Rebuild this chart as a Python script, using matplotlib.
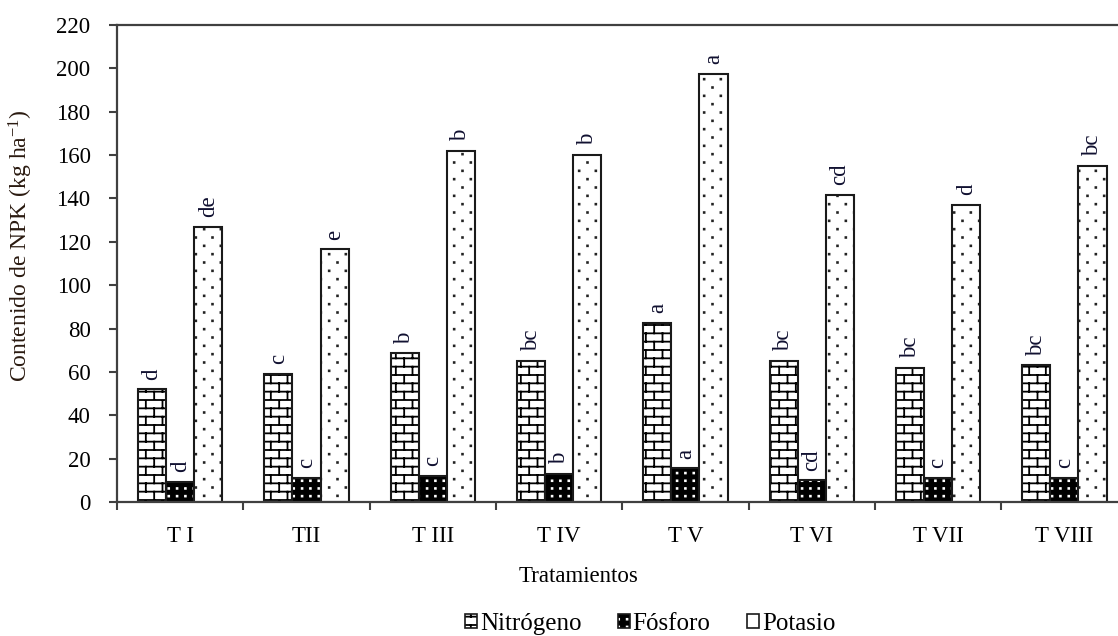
import warnings
warnings.filterwarnings("ignore")
import numpy as np
import matplotlib
matplotlib.use("Agg")
import matplotlib.pyplot as plt
import matplotlib.hatch as mhatch
import matplotlib.colors as mcolors
from matplotlib.path import Path
from matplotlib.patches import Rectangle
from matplotlib.ticker import FixedLocator, NullFormatter, FixedFormatter

# ---------------- data ----------------
categories = ['T I', 'TII', 'T III', 'T IV', 'T V', 'T VI', 'T VII', 'T VIII']
nitrogeno = [52, 59, 68.5, 65, 82.5, 65, 62, 63]
fosforo = [9.2, 11, 12, 13, 15.5, 10, 11, 11]
potasio = [127, 116.5, 162, 160, 197.5, 141.5, 137, 155]
let_n = ['d', 'c', 'b', 'bc', 'a', 'bc', 'bc', 'bc']
let_p = ['d', 'c', 'c', 'b', 'a', 'cd', 'c', 'c']
let_k = ['de', 'e', 'b', 'b', 'a', 'cd', 'd', 'bc']
series_names = ['Nitrógeno', 'Fósforo', 'Potasio']
yticks = list(range(0, 221, 20))


# ---------------- custom hatch patterns ----------------
class BrickHatch(mhatch.HatchPatternBase):
    rows, cols = 12, 6

    def __init__(self, hatch, density):
        self.on = 'B' in hatch
        if self.on:
            nseg = (self.rows + 1) + self.rows * self.cols
            self.num_vertices = nseg * 2
        else:
            self.num_vertices = 0

    def set_vertices_and_codes(self, vertices, codes):
        segs = []
        for k in range(self.rows + 1):
            y = k / self.rows
            segs.append(((0, y), (1, y)))
        for r in range(self.rows):
            y0, y1 = r / self.rows, (r + 1) / self.rows
            off = 0.75 if r % 2 else 0.25
            for c in range(self.cols):
                x = (c + off) / self.cols
                segs.append(((x, y0), (x, y1)))
        v = np.array(segs).reshape(-1, 2)
        vertices[:] = v
        codes[0::2] = Path.MOVETO
        codes[1::2] = Path.LINETO


class DotHatch(mhatch.HatchPatternBase):
    char = 'p'
    rows, cols, stagger = 12, 6, True
    s = 0.004

    def __init__(self, hatch, density):
        self.on = self.char in hatch
        self.num_vertices = (self.rows * self.cols * 5) if self.on else 0

    def set_vertices_and_codes(self, vertices, codes):
        pts = []
        for r in range(self.rows):
            y = (r + 0.5) / self.rows
            off = 0.5 if (self.stagger and r % 2) else 0.0
            for c in range(self.cols):
                x = ((c + 0.25 + off) % self.cols) / self.cols
                pts.append((x, y))
        s = self.s
        vs, cs = [], []
        for (x, y) in pts:
            vs += [(x - s, y - s), (x + s, y - s), (x + s, y + s), (x - s, y + s), (x - s, y - s)]
            cs += [Path.MOVETO, Path.LINETO, Path.LINETO, Path.LINETO, Path.CLOSEPOLY]
        vertices[:] = np.array(vs)
        codes[:] = cs


class FosDotHatch(DotHatch):
    char = 'f'
    rows, cols, stagger = 13, 12, False


mhatch._hatch_types.extend([BrickHatch, DotHatch, FosDotHatch])

plt.rcParams['font.family'] = ['Liberation Serif', 'DejaVu Serif']
plt.rcParams['mathtext.fontset'] = 'custom'
plt.rcParams['mathtext.rm'] = 'Liberation Serif'
plt.rcParams['mathtext.it'] = 'Liberation Serif:italic'
plt.rcParams['hatch.linewidth'] = 1.3

W, H = 1118, 636
fig = plt.figure(figsize=(W / 100, H / 100), dpi=100)
left, right, top, bottom = 117, 1127.6, 25, 502
ax = fig.add_axes([left / W, 1 - bottom / H, (right - left) / W, (bottom - top) / H])

n = len(categories)
x = np.arange(n) + 0.5
w = 0.222
edge = '#1a1a1a'
lw = 1.5
fs = 16.5

bn = ax.bar(x - w, nitrogeno, w, facecolor='white', edgecolor=edge, linewidth=lw, hatch='B')
bp = ax.bar(x, fosforo, w, facecolor='black', edgecolor=edge, linewidth=lw, hatch='f')
for p in bp:
    p._hatch_color = mcolors.to_rgba('white')
bk = ax.bar(x + w, potasio, w, facecolor='white', edgecolor=edge, linewidth=lw, hatch='p')
for p in bn:
    p._hatch_color = mcolors.to_rgba('black')
for p in bk:
    p._hatch_color = mcolors.to_rgba('#222222')

for vals, labs, dx in [(nitrogeno, let_n, -w), (fosforo, let_p, 0), (potasio, let_k, w)]:
    for xi, v, lab in zip(x, vals, labs):
        ax.annotate(lab, (xi + dx, v), xytext=(0, 7), textcoords='offset points',
                    rotation=90, ha='center', va='bottom', fontsize=fs, color='#101030')

ax.set_xlim(0, n)
ax.set_ylim(0, 220)
ax.set_yticks(yticks)
ax.set_yticklabels([str(t) for t in yticks])
ax.xaxis.set_major_locator(FixedLocator(np.arange(n)))
ax.xaxis.set_major_formatter(NullFormatter())
ax.xaxis.set_minor_locator(FixedLocator(x))
ax.xaxis.set_minor_formatter(FixedFormatter(categories))
ax.tick_params(axis='x', which='major', direction='out', length=6, width=1.5, color='#404040')
ax.tick_params(axis='x', which='minor', length=0, pad=17, labelsize=fs)
ax.tick_params(axis='y', direction='out', length=6, width=1.5, color='#404040', pad=13, labelsize=fs)

for s in ['left', 'bottom', 'top']:
    ax.spines[s].set_color('#404040')
    ax.spines[s].set_linewidth(1.6)
ax.spines['right'].set_visible(False)

fig.text(21 / W, 1 - 246 / H, 'Contenido de NPK (kg ha$^{\\mathrm{-1}}$)', rotation=90,
         ha='center', va='center', fontsize=fs + 0.5, color='#2a1a10')
fig.text(579 / W, 1 - 577 / H, 'Tratamientos', ha='center', va='center', fontsize=fs)

h1 = Rectangle((0, 0), 1, 1, facecolor='white', edgecolor=edge, linewidth=1.2, hatch='B')
h2 = Rectangle((0, 0), 1, 1, facecolor='black', edgecolor=edge, linewidth=1.2, hatch='f')
h3 = Rectangle((0, 0), 1, 1, facecolor='white', edgecolor=edge, linewidth=1.2, hatch='p')
h1._hatch_color = mcolors.to_rgba('black')
h2._hatch_color = mcolors.to_rgba('white')
h3._hatch_color = mcolors.to_rgba('black')
fig.legend([h1, h2, h3], series_names, loc='center', bbox_to_anchor=(650 / W, 1 - 624 / H),
           ncol=3, frameon=False, fontsize=18, handlelength=0.5, handleheight=0.5,
           handletextpad=0.1, columnspacing=1.45)

fig.savefig('out.png', dpi=100)
